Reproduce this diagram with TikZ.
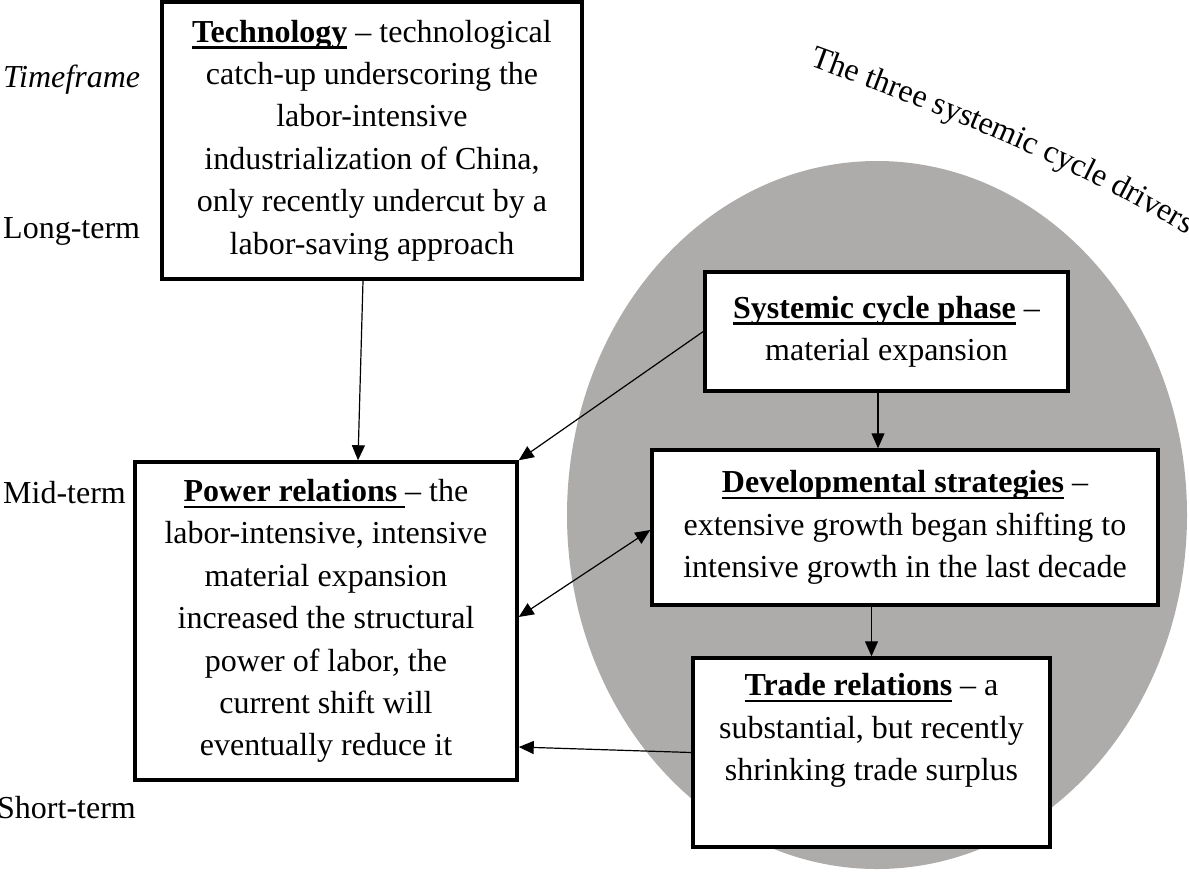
\documentclass[tikz,border=0pt]{standalone}
\usepackage{fontspec}
\setmainfont{Liberation Serif}
\usepackage{tikz}
\usetikzlibrary{arrows.meta,decorations.text}
\definecolor{ovalgrey}{RGB}{174,171,171}
\newcommand{\bodyfont}{\fontsize{32}{42.4}\selectfont}
\newsavebox{\hdbox}
\newcommand{\hd}[1]{\sbox\hdbox{\textbf{#1}}\rlap{\rule[-6.5pt]{\wd\hdbox}{2.4pt}}\usebox\hdbox}
\tikzset{
  box/.style={
    rectangle, draw, line width=3.5pt, fill=white, align=center, inner sep=0pt
  },
  lbl/.style={anchor=base west, inner sep=0pt},
  edge/.style={-{Triangle[length=15pt,width=13pt]}, line width=1.2pt},
  dedge/.style={{Triangle[length=15pt,width=13pt]}-{Triangle[length=15pt,width=13pt]}, line width=1.2pt}
}

\begin{document}
\begin{tikzpicture}[x=1pt, y=-1pt, font=\bodyfont]
\useasboundingbox (0,0) rectangle (1189,871);
% oval behind the cycle drivers
\fill[ovalgrey] (877,515) ellipse [x radius=310, y radius=354];
\path[decorate, decoration={text along path, text align=center,
  text={|\bodyfont|The three systemic cycle drivers}}]
  (800,62) .. controls (925,108) and (1070,162) .. (1195,240);

% timeframe labels
\node[lbl, font=\bodyfont\itshape] (tframe) at (3,87) {Timeframe};
\node[lbl] (long) at (3,238) {Long-term};
\node[lbl] (mid) at (3,503) {Mid-term};
\node[lbl] (short) at (-3,818) {Short-term};

% boxes
\node[box, minimum width=420, minimum height=277] (tech) at (372,140.5)
  {\hd{Technology} -- technological\\ catch-up underscoring the\\ labor-intensive\\ industrialization of China,\\ only recently undercut by a\\ labor-saving approach};
\node[box, minimum width=382, minimum height=318] (power) at (326,621)
  {\hd{Power relations\ }-- the\\ labor-intensive, intensive\\ material expansion\\ increased the structural\\ power of labor, the\\ current shift will\\ eventually reduce it};
\node[box, minimum width=363, minimum height=119] (sys) at (886.5,331.5)
  {\hd{Systemic cycle phase} --\\ material expansion};
\node[box, minimum width=506, minimum height=155] (dev) at (905,527.5)
  {\hd{Developmental strategies} --\\ extensive growth began shifting to\\ intensive growth in the last decade};
\node[box, minimum width=357, minimum height=189] (trade) at (871.5,752.5)
  {\hd{Trade relations} -- a\\ substantial, but recently\\ shrinking trade surplus\\[-4pt] \strut};

% connectors
\draw[edge] ([xshift=-9pt]tech.south) -- ([xshift=32pt]power.north);
\draw[edge] (sys.west) -- (power.north east);
\draw[edge] ([xshift=-8.5pt]sys.south) -- ([xshift=-27pt]dev.north);
\draw[dedge] ([yshift=4pt]power.east) -- ([yshift=-2.5pt]dev.west);
\draw[edge] ([xshift=-33.5pt, yshift=4pt]dev.south) -- (trade.north);
\draw[edge] (trade.west) -- ([yshift=-126pt]power.east);
\end{tikzpicture}
\end{document}
